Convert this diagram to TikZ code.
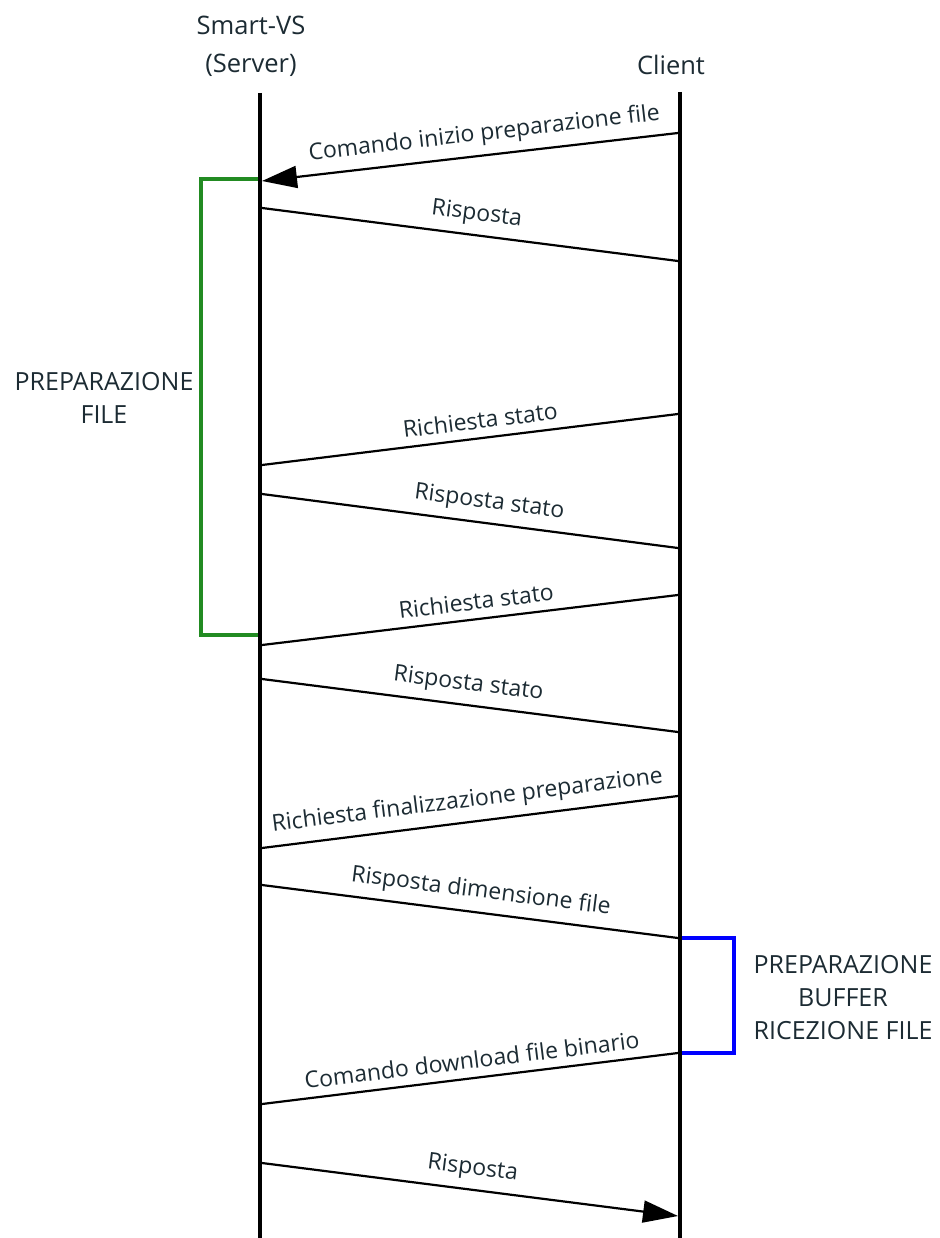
\documentclass[tikz,border=0pt]{standalone}
\usepackage{fontspec}
\setmainfont{Open Sans}
\usetikzlibrary{arrows.meta}

\definecolor{inktext}{RGB}{28,43,51}
\definecolor{phasegreen}{RGB}{34,139,34}
\definecolor{phaseblue}{RGB}{0,0,255}

\begin{document}
\begin{tikzpicture}[
    x=1pt, y=-1pt,
    lifeline/.style={line width=4.4pt},
    msg/.style={line width=2.2pt},
    head/.style={-{Triangle[length=35pt,width=22pt]}},
    msglabel/.style={font=\fontsize{23}{27}\selectfont, text=inktext, sloped, above=5pt},
    title/.style={font=\fontsize{25.5}{38}\selectfont, text=inktext, align=center},
    phase/.style={line width=4.4pt},
    phaselabel/.style={font=\fontsize{25}{33}\selectfont, text=inktext, align=center}
]
    \useasboundingbox (0,0) rectangle (939,1238);

    % intestazioni
    \node[title] (server) at (251,46) {Smart-VS\\(Server)};
    \node[title] (client) at (671,65) {Client};

    % linee di vita
    \coordinate (srvtop) at (260,93);
    \coordinate (srvbot) at (260,1238);
    \coordinate (clitop) at (680,92);
    \coordinate (clibot) at (680,1238);
    \draw[lifeline] (srvtop) -- (srvbot);
    \draw[lifeline] (clitop) -- (clibot);

    % estremi dei messaggi
    \coordinate (c1) at (678,133);  \coordinate (s1) at (262,181);
    \coordinate (s2) at (262,208);  \coordinate (c2) at (678,261);
    \coordinate (c3) at (678,414);  \coordinate (s3) at (262,465);
    \coordinate (s4) at (262,494);  \coordinate (c4) at (678,548);
    \coordinate (c5) at (678,595);  \coordinate (s5) at (262,645);
    \coordinate (s6) at (262,679);  \coordinate (c6) at (678,732);
    \coordinate (c7) at (678,796);  \coordinate (s7) at (262,848);
    \coordinate (s8) at (262,885);  \coordinate (c8) at (678,938);
    \coordinate (c9) at (678,1053); \coordinate (s9) at (262,1104);
    \coordinate (s10) at (262,1163); \coordinate (c10) at (678,1216);

    % messaggi
    \draw[msg, head] (c1) -- node[msglabel, pos=0.46] {Comando inizio preparazione file} (s1);
    \draw[msg] (s2) -- node[msglabel, pos=0.51] {Risposta} (c2);
    \draw[msg] (c3) -- node[msglabel, pos=0.47] {Richiesta stato} (s3);
    \draw[msg] (s4) -- node[msglabel, pos=0.54] {Risposta stato} (c4);
    \draw[msg] (c5) -- node[msglabel, pos=0.48] {Richiesta stato} (s5);
    \draw[msg] (s6) -- node[msglabel, pos=0.49] {Risposta stato} (c6);
    \draw[msg] (c7) -- node[msglabel, pos=0.50] {Richiesta finalizzazione preparazione} (s7);
    \draw[msg] (s8) -- node[msglabel, pos=0.52] {Risposta dimensione file} (c8);
    \draw[msg] (c9) -- node[msglabel, pos=0.49] {Comando download file binario} (s9);
    \draw[msg, head] (s10) -- node[msglabel, pos=0.50] {Risposta} (c10);

    % fase preparazione file (server)
    \coordinate (gtop) at (258,179);
    \coordinate (gbot) at (258,635);
    \draw[phase, phasegreen] (gtop) -- ++(-57,0) |- (gbot);
    \node[phaselabel] (preplabel) at (104,398) {PREPARAZIONE\\FILE};

    % fase buffer (client)
    \coordinate (btop) at (682,938);
    \coordinate (bbot) at (682,1053);
    \draw[phase, phaseblue] (btop) -- ++(52,0) |- (bbot);
    \node[phaselabel] (bufflabel) at (843,998) {PREPARAZIONE\\BUFFER\\RICEZIONE FILE};
\end{tikzpicture}
\end{document}
